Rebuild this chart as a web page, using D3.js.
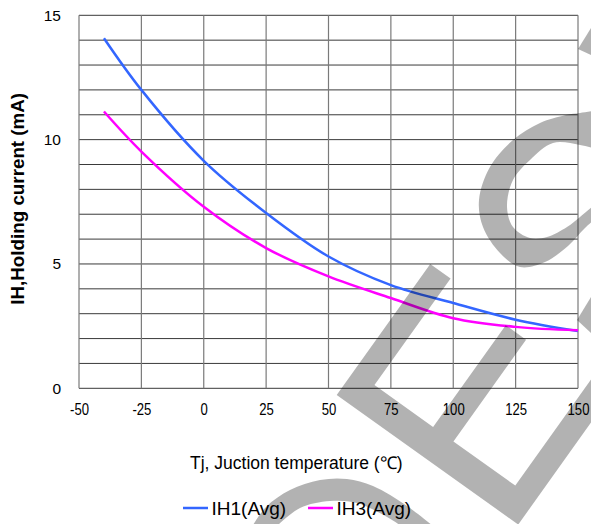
<!DOCTYPE html>
<html>
<head>
<meta charset="utf-8">
<script src="https://cdn.jsdelivr.net/npm/d3@7"></script>
<style>
  html, body { margin: 0; padding: 0; background: #fff; }
  svg { display: block; font-family: "Liberation Sans", Arial, sans-serif; }
</style>
</head>
<body>
<svg id="chart" width="591" height="524"></svg>
<script>
// ---- data ----
const temps = [-40, -25, 0, 25, 50, 75, 100, 125, 150];
const ih1 = [14.08, 12.0, 9.15, 7.05, 5.3, 4.15, 3.43, 2.76, 2.3];
const ih3 = [11.13, 9.52, 7.3, 5.64, 4.5, 3.63, 2.82, 2.47, 2.33];
const xTicks = [-50, -25, 0, 25, 50, 75, 100, 125, 150];
const yTicks = [0, 5, 10, 15];
const yGrid = d3.range(0, 16, 1);
const seriesNames = ["IH1(Avg)", "IH3(Avg)"];
const seriesColors = ["#3366ff", "#ff00ff"];
const xTitle = "Tj, Juction temperature (\u2103)";
const yTitle = "IH,Holding current (mA)";

// ---- layout ----
const svg = d3.select("#chart");
const L = 79, R = 578, T = 15.3, B = 388.3;
const x = d3.scaleLinear().domain([-50, 150]).range([L, R]);
const y = d3.scaleLinear().domain([0, 15]).range([B, T]);

svg.append("rect").attr("width", 591).attr("height", 524).attr("fill", "#fff");

// gridlines
const grid = svg.append("g");
grid.selectAll("line.h").data(yGrid).join("line")
  .attr("x1", L).attr("x2", R)
  .attr("y1", d => y(d)).attr("y2", d => y(d))
  .attr("stroke", "#3a3a3a").attr("stroke-width", 1);
grid.selectAll("line.v").data(xTicks).join("line")
  .attr("x1", d => x(d)).attr("x2", d => x(d))
  .attr("y1", T).attr("y2", B)
  .attr("stroke", "#7a7a7a").attr("stroke-width", 1.2);

// axes
const fmt = d => String(d);
const xAxis = svg.append("g").attr("transform", `translate(0,${B})`)
  .call(d3.axisBottom(x).tickValues(xTicks).tickSize(0).tickPadding(15.3).tickFormat(fmt));
xAxis.select(".domain").remove();
xAxis.selectAll("text").attr("font-size", 16).attr("fill", "#000")
  .attr("font-family", "Liberation Sans, Arial, sans-serif")
  .attr("transform", "scale(0.82,1)");

const yAxis = svg.append("g").attr("transform", `translate(${L},0)`)
  .call(d3.axisLeft(y).tickValues(yTicks).tickSize(0).tickPadding(18).tickFormat(fmt));
yAxis.select(".domain").remove();
yAxis.selectAll("text").attr("font-size", 15.5).attr("fill", "#000")
  .attr("font-family", "Liberation Sans, Arial, sans-serif");

// lines
const lineGen = d3.line().x(d => x(d[0])).y(d => y(d[1])).curve(d3.curveCatmullRom.alpha(0.5));
[ih1, ih3].forEach((s, i) => {
  svg.append("path")
    .datum(temps.map((t, j) => [t, s[j]]))
    .attr("fill", "none")
    .attr("stroke", seriesColors[i])
    .attr("stroke-width", 2.5)
    .attr("d", lineGen);
});

// titles
svg.append("text").attr("x", 190).attr("y", 469)
  .attr("font-size", 17.5).attr("fill", "#000").text(xTitle);
svg.append("text").attr("transform", `translate(23.8,${(T + B) / 2 - 3}) rotate(-90)`)
  .attr("text-anchor", "middle").attr("font-size", 18.8).attr("font-weight", "bold")
  .attr("fill", "#000").text(yTitle);

// legend
const legX = [183, 308];
seriesNames.forEach((n, i) => {
  svg.append("line").attr("x1", legX[i]).attr("x2", legX[i] + 25)
    .attr("y1", 508).attr("y2", 508)
    .attr("stroke", seriesColors[i]).attr("stroke-width", 2.5);
  svg.append("text").attr("x", legX[i] + 28.5).attr("y", 515)
    .attr("font-size", 19).attr("fill", "#000").text(n);
});

// ---- watermark overlay (decoration) ----
const wm = svg.append("g").attr("fill", "#000").attr("fill-opacity", 0.3).attr("stroke", "none");
// "E" letter in a rotated frame
const P1 = [336.7, 395], uDir = [0.581, -0.814], vDir = [0.814, 0.581];
const eLocal = [[0,0],[161,0],[161,25],[30,25],[30,97],[155,97],[155,122],[30,122],[30,198],[200,198],[200,223],[0,223]];
const toPx = p => [P1[0] + p[0]*uDir[0] + p[1]*vDir[0], P1[1] + p[0]*uDir[1] + p[1]*vDir[1]];
wm.append("path").attr("d", d3.line()(eLocal.map(toPx)) + "Z");
// "C" letter
const cOuter = [[600,110],[580,113],[566,115],[540,123],[513,140],[490,167],[479,200],[483,227],[500,253],[520,267],[545,262],[568,246],[585,228],[600,215]];
const cInner = [[600,200],[580,217],[567,227],[547,237],[530,238],[513,227],[507,207],[513,180],[530,160],[553,143],[580,145],[600,150]];
wm.append("path").attr("d", d3.line().curve(d3.curveCatmullRom)(cOuter) + "L" + d3.line().curve(d3.curveCatmullRom)(cInner).slice(1) + "Z");
wm.append("path").attr("d", d3.line()([[578,49],[591,28],[591,55]]) + "Z");
wm.append("path").attr("d", d3.line()([[577,320],[591,297],[591,333]]) + "Z");
// "S" top arc at bottom
const sOuter = [[250,530],[266,507],[290,490],[320,480],[347,479],[373,486],[407,506],[433,526]];
const sInner = [[407,530],[387,517],[357,503],[330,501],[300,508],[277,526]];
wm.append("path").attr("d", d3.line().curve(d3.curveCatmullRom)(sOuter) + "L" + d3.line().curve(d3.curveCatmullRom)(sInner).slice(1) + "Z");
</script>
</body>
</html>
